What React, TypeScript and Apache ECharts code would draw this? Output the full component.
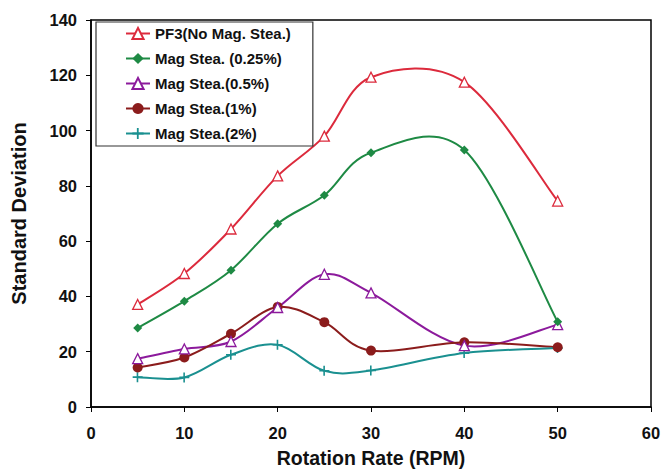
import React, { useEffect, useRef } from "react";
import * as echarts from "echarts";

const xValues = [5, 10, 15, 20, 25, 30, 40, 50];
const pf3 = [37.1, 48.3, 64.4, 83.6, 98, 119.3, 117.5, 74.5];
const mag025 = [28.6, 38.3, 49.5, 66.3, 76.6, 92, 93, 30.8];
const mag05 = [17.5, 21, 23.7, 36, 48, 41.3, 22.2, 29.8];
const mag1 = [14.3, 17.9, 26.5, 36.2, 30.7, 20.4, 23.4, 21.6];
const mag2 = [10.8, 10.7, 18.9, 22.5, 13.1, 13.2, 19.5, 21.3];
const seriesNames = [
  "PF3(No Mag. Stea.)",
  "Mag Stea. (0.25%)",
  "Mag Stea.(0.5%)",
  "Mag Stea.(1%)",
  "Mag Stea.(2%)",
];
const colors = ["#dc2a3c", "#1e8a44", "#8c1a9c", "#8b1c1c", "#1a9090"];

const plusPath = "path://M4,0h1.6v4.2h4.4v1.6h-4.4v4.2h-1.6v-4.2h-4v-1.6h4z";

export default function App() {
  const ref = useRef<HTMLDivElement>(null);
  useEffect(() => {
    if (!ref.current) return;
    const chart = echarts.init(ref.current, null, { renderer: "svg" });
    const pair = (vals: number[]) => xValues.map((x, i) => [x, vals[i]]);
    const font = "Liberation Sans, Arial, sans-serif";
    const datasets = [pf3, mag025, mag05, mag1, mag2];
    const symbols = ["triangle", "diamond", "triangle", "circle", plusPath];
    const sizes = [10, 9, 10, 10, 10];
    const hollow = [true, false, true, false, false];

    const curveSeries = datasets.map((vals, si) => ({
      type: "custom",
      name: seriesNames[si] + " curve",
      silent: true,
      z: 2,
      data: xValues.slice(0, -1).map((x, i) => [x, vals[i]]),
      renderItem: (params: any, api: any) => {
        const i = params.dataIndex;
        const n = xValues.length;
        const p = (k: number) => {
          const kk = Math.max(0, Math.min(n - 1, k));
          return api.coord([xValues[kk], vals[kk]]);
        };
        const p0 = p(i - 1);
        const p1 = p(i);
        const p2 = p(i + 1);
        const p3 = p(i + 2);
        const t = 1 / 6;
        return {
          type: "bezierCurve",
          shape: {
            x1: p1[0],
            y1: p1[1],
            x2: p2[0],
            y2: p2[1],
            cpx1: p1[0] + (p2[0] - p0[0]) * t,
            cpy1: p1[1] + (p2[1] - p0[1]) * t,
            cpx2: p2[0] - (p3[0] - p1[0]) * t,
            cpy2: p2[1] - (p3[1] - p1[1]) * t,
          },
          style: { stroke: colors[si], lineWidth: 2, fill: "none" },
        };
      },
    }));

    const markerSeries = datasets.map((d, i) => ({
      name: seriesNames[i],
      type: "line",
      data: pair(d),
      symbol: symbols[i],
      symbolSize: sizes[i],
      lineStyle: { color: colors[i], width: 2, opacity: 0 },
      itemStyle: hollow[i]
        ? { color: "#fff", borderColor: colors[i], borderWidth: 1.3 }
        : { color: colors[i], borderColor: colors[i], borderWidth: 0 },
      z: 10 - i,
    }));

    chart.setOption({
      animation: false,
      backgroundColor: "#fff",
      grid: {
        left: 91,
        right: 12,
        top: 20,
        bottom: 63,
        show: true,
        borderColor: "#000",
        borderWidth: 1.5,
        containLabel: false,
        outerBoundsMode: "none",
      },
      legend: {
        orient: "vertical",
        left: 96,
        top: 22,
        padding: [4, 22, 5, 29],
        itemGap: 10,
        itemWidth: 24,
        itemHeight: 14,
        borderColor: "#333",
        borderWidth: 1.2,
        backgroundColor: "#fff",
        lineStyle: { opacity: 1, width: 2 },
        textStyle: { fontFamily: font, fontWeight: "bold", fontSize: 15, color: "#111" },
        data: seriesNames,
      },
      xAxis: {
        type: "value",
        min: 0,
        max: 60,
        interval: 10,
        name: "Rotation Rate (RPM)",
        nameLocation: "middle",
        nameGap: 41,
        nameTextStyle: { fontFamily: font, fontWeight: "bold", fontSize: 19.5, color: "#111" },
        axisLine: { show: true, lineStyle: { color: "#000", width: 1.5 } },
        axisTick: { show: true, inside: false, length: 5, lineStyle: { color: "#000" } },
        axisLabel: { fontFamily: font, fontWeight: "bold", fontSize: 16.5, color: "#111", margin: 17 },
        splitLine: { show: false },
      },
      yAxis: {
        type: "value",
        min: 0,
        max: 140,
        interval: 20,
        name: "Standard Deviation",
        nameLocation: "middle",
        nameGap: 62,
        nameTextStyle: { fontFamily: font, fontWeight: "bold", fontSize: 20, color: "#111" },
        axisLine: { show: true, lineStyle: { color: "#000", width: 1.5 } },
        axisTick: { show: true, inside: false, length: 5, lineStyle: { color: "#000" } },
        axisLabel: { fontFamily: font, fontWeight: "bold", fontSize: 16.5, color: "#111", margin: 14 },
        splitLine: { show: false },
      },
      series: [...curveSeries, ...markerSeries],
    });
    return () => chart.dispose();
  }, []);
  return <div ref={ref} style={{ width: 663, height: 470, position: "absolute", left: 0, top: 0 }} />;
}
